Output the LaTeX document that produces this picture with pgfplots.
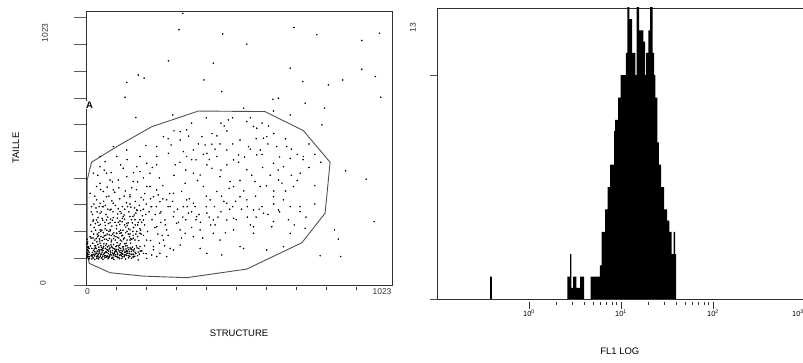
\documentclass[border=0pt]{standalone}
\usepackage{pgfplots}
\pgfplotsset{compat=1.18}
\usepackage{fontspec}
\setmainfont{Liberation Sans}
\definecolor{axgray}{HTML}{303030}
\definecolor{gategray}{HTML}{505050}
\newcommand{\lblfont}{\fontsize{9.5}{11}\selectfont}
\newcommand{\tckfont}{\fontsize{8.5}{10}\selectfont}

\begin{document}
\begin{tikzpicture}
% ---------------- left: dot plot ----------------
\begin{axis}[
  at={(86bp,78bp)}, anchor=south west,
  scale only axis, width=306bp, height=274bp,
  xmin=0, xmax=1043, ymin=0, ymax=1049,
  axis line style={axgray, line width=0.9bp},
  xtick=\empty,
  extra x ticks={102.3,204.6,306.9,409.2,511.5,613.8,716.1,818.4,920.7},
  extra x tick labels={},
  extra x tick style={major tick length=3bp, tick align=outside, xtick pos=left,
     tick style={yshift=-2.5bp, axgray, line width=0.9bp}},
  ytick={0,102.3,204.6,306.9,409.2,511.5,613.8,716.1,818.4,920.7,1023},
  yticklabels={},
  ytick pos=left,
  tick align=outside, major tick length=12bp,
  ytick style={black!65, line width=0.9bp},
  xlabel={STRUCTURE}, ylabel={TAILLE},
  xlabel style={at={(rel axis cs:0.5,-0.175)}, anchor=center, font=\lblfont},
  ylabel style={at={(rel axis cs:-0.229,0.5)}, anchor=center, font=\lblfont},
]
\addplot[only marks, mark=*, mark size=0.55bp, black] table {
x y
330 1040
317 977
466 961
709 986
787 958
1000 964
940 936
548 922
281 858
434 849
696 830
940 826
178 804
198 792
139 776
402 785
739 779
826 766
875 785
986 798
463 740
133 719
637 711
656 715
1005 719
747 696
813 677
639 666
696 651
170 641
296 651
804 613
537 677
885 437
955 405
847 211
860 176
798 112
868 109
982 243
321 587
343 594
485 632
471 609
548 626
571 607
582 600
622 609
446 571
395 568
383 540
406 536
429 539
457 540
290 536
264 568
204 534
241 492
332 511
281 504
525 555
554 530
605 562
616 568
650 530
684 530
673 453
656 402
639 466
582 498
520 498
503 479
412 460
429 447
366 428
338 389
389 421
457 415
491 396
548 441
576 396
594 377
605 275
656 287
696 300
730 281
747 217
696 198
633 223
571 198
525 147
463 115
503 255
434 249
377 262
366 313
423 326
343 326
332 300
298 262
275 211
321 211
287 140
264 172
252 319
241 364
218 377
196 326
161 396
150 338
173 287
127 262
105 198
70 249
48 275
48 313
70 338
93 364
110 402
127 447
173 453
207 466
241 460
184 434
48 453
65 472
366 185
389 140
412 121
434 198
503 211
571 223
639 243
673 147
616 134
537 140
457 172
321 153
298 134
224 115
196 121
184 147
161 179
150 211
139 236
116 281
93 313
59 358
36 377
25 249
14 185
8 147
207 377
230 338
252 275
275 326
298 351
326 358
349 275
287 300
224 300
196 249
241 223
269 249
309 236
338 198
389 211
412 275
480 313
525 338
446 358
400 377
503 377
548 326
571 287
480 249
639 338
673 326
707 377
730 428
741 492
696 485
594 517
480 517
343 492
304 460
375 479
446 492
218 428
139 415
82 402
48 389
70 428
105 492
139 517
184 492
241 530
321 555
366 517
412 504
93 530
48 492
25 428
14 351
19 300
36 326
59 300
82 287
36 249
48 211
82 211
116 198
150 172
184 198
207 172
230 147
252 121
275 109
241 109
207 102
178 96
161 109
139 121
122 102
105 109
88 102
70 109
53 102
36 109
19 115
5 109
5 134
5 160
5 121
8 102
11 140
18 112
22 125
25 104
28 138
31 118
33 150
36 108
38 130
41 122
44 145
46 105
48 160
50 115
52 135
55 126
57 110
60 148
62 120
64 104
66 140
68 128
70 158
72 112
74 134
76 120
78 150
80 108
82 142
84 125
86 165
88 115
90 132
92 104
94 155
96 121
98 138
100 110
102 147
104 128
106 162
108 116
110 135
112 106
114 152
116 124
118 140
120 112
122 168
124 130
126 118
128 146
130 108
132 158
134 126
136 138
138 114
140 150
143 122
146 135
149 110
152 160
155 128
158 145
162 118
165 138
168 125
172 150
176 112
180 140
185 130
20 140
27 118
34 126
39 112
43 135
47 122
53 144
58 132
63 112
67 152
71 125
75 108
79 138
83 118
87 148
91 122
95 112
99 128
103 136
107 122
111 150
115 114
119 132
123 120
127 138
131 126
135 150
139 132
144 112
148 128
153 140
157 118
163 130
170 120
178 126
3 105
4 115
3 125
5 135
4 145
3 155
6 165
4 175
5 120
7 110
9 130
10 118
12 108
8 142
11 125
35 178
42 190
50 205
58 182
65 215
72 195
80 178
88 225
95 200
102 185
110 240
118 210
125 190
132 230
140 205
148 185
155 250
162 220
170 195
178 240
186 210
192 265
40 240
55 255
68 270
76 235
85 290
93 258
100 305
108 272
116 245
124 300
130 268
138 315
146 280
153 298
160 262
168 320
175 285
182 305
190 240
45 300
60 320
78 340
98 355
115 330
134 360
150 345
172 365
188 335
205 310
215 280
225 250
235 220
245 195
210 205
220 170
200 150
190 130
205 120
230 135
250 160
260 190
270 230
255 280
240 300
262 330
280 300
285 350
300 280
315 240
330 260
345 300
360 280
375 250
390 240
410 300
420 260
440 230
460 280
470 320
490 290
510 320
530 290
550 260
560 230
580 260
600 300
620 270
640 310
660 280
690 250
710 230
730 300
750 260
780 310
21 108
26 132
29 112
32 142
35 120
37 102
40 155
42 116
45 128
49 110
51 150
54 104
56 138
59 118
61 158
65 124
69 106
73 146
77 130
81 114
85 154
89 106
93 140
97 126
101 116
105 150
109 104
113 130
117 158
121 124
125 108
129 134
133 116
137 160
141 128
145 104
150 142
154 116
160 134
166 110
174 142
182 118
24 180
30 172
38 195
46 176
54 210
62 188
70 175
78 205
86 190
94 178
104 215
112 180
120 200
128 176
136 222
144 195
152 178
160 205
168 230
176 185
184 215
196 190
28 220
44 228
64 240
84 252
104 228
124 255
144 238
164 268
184 250
200 230
22 270
34 295
52 280
66 305
88 322
110 292
132 290
150 310
166 295
186 285
204 270
222 300
236 270
30 340
50 365
72 375
90 395
112 372
130 340
156 372
176 395
200 350
220 330
246 345
262 380
40 420
62 440
86 430
118 460
140 480
162 430
196 410
226 450
250 410
255 240
268 150
280 190
295 320
312 290
325 180
340 250
352 330
360 220
372 300
385 270
398 180
410 340
425 230
438 300
450 260
462 340
475 200
488 370
500 300
512 250
525 400
538 360
550 300
565 420
578 340
590 290
602 450
615 380
628 420
640 360
655 440
668 390
680 360
700 420
720 400
760 450
780 380
300 420
320 470
340 440
360 480
380 400
400 500
420 480
440 520
460 440
480 460
500 540
520 470
540 490
560 520
580 560
600 500
620 540
640 580
660 490
680 560
700 520
720 500
740 480
760 540
780 500
800 470
280 560
300 590
350 570
430 580
480 590
360 620
410 640
460 620
500 640
560 640
600 620
15 150
17 180
19 205
23 160
26 195
30 150
33 210
37 165
40 185
44 200
47 168
51 185
55 170
59 200
63 175
67 190
71 210
75 170
79 192
83 208
87 172
91 195
96 188
100 172
104 198
108 182
113 205
117 172
122 188
126 210
131 180
135 200
140 172
145 215
150 195
156 175
161 190
167 172
173 205
180 170
188 195
16 230
24 245
32 235
41 258
49 232
57 248
66 228
74 260
82 238
90 248
99 240
107 256
115 232
123 242
132 252
141 228
150 262
158 238
167 250
176 230
12 100
20 100
30 98
42 100
58 98
75 100
95 98
115 100
135 99
155 102
23 115
29 128
35 140
41 108
47 134
53 118
59 142
65 112
71 136
77 104
83 130
89 144
95 118
101 132
107 106
113 142
119 118
125 146
131 112
137 128
143 142
149 120
155 136
161 106
18 280
27 310
38 280
56 300
74 290
92 280
120 275
142 300
170 275
195 290
};
% gate A
\addplot[gategray, line width=0.9bp, mark=none] coordinates {
(4,402) (19,470) (105,530) (224,606) (383,666) (610,664) (741,591)
(832,470) (815,275) (736,162) (548,61) (343,28) (195,34) (82,47)
(11,83) (4,121) (4,402)};
\end{axis}

% ---------------- right: histogram ----------------
\begin{axis}[
  at={(437bp,64bp)}, anchor=south west,
  scale only axis, width=368bp, height=291bp,
  xmode=log, xmin=0.1, xmax=1000, ymin=0, ymax=13,
  axis line style={axgray, line width=0.9bp},
  xtick={1,10,100},
  xticklabels={10\textsuperscript{0},10\textsuperscript{1},10\textsuperscript{2}},
  extra x ticks={1000},
  extra x tick labels={10\textsuperscript{3}},
  extra x tick style={xticklabel style={xshift=-7bp}},
  ytick={0,10}, yticklabels={},
  xtick pos=left, ytick pos=left,
  tick align=outside, major tick length=7bp, minor tick length=3.3bp,
  xtick style={yshift=-2.5bp, axgray, line width=0.9bp},
  ytick style={black!70, line width=0.9bp},
  xticklabel style={font=\fontsize{7.5}{8}\selectfont},
  xlabel={FL1 LOG},
  xlabel style={at={(rel axis cs:0.497,-0.179)}, anchor=center, font=\lblfont},
]
\addplot[fill=black, draw=none, const plot mark left] coordinates {
(0.3768,1) (0.396,0) (2.608,1) (2.791,2) (2.883,0.5) (3.008,1) (3.283,0.5)
(3.584,1) (3.961,0) (4.685,1) (5.911,1.5) (6.138,3) (6.701,4) (7.134,5)
(7.594,6) (8.393,7.5) (8.606,8) (9.277,9) (9.876,10) (11.33,11) (11.71,14)
(12.31,12.5) (13.17,11) (14.30,10) (14.82,14) (15.69,12) (17.48,11.5)
(18.24,10) (18.70,11) (19.81,12) (20.67,14) (22.12,11) (22.84,10) (23.60,9)
(24.80,7) (25.88,6) (27.22,5) (29.34,4) (31.62,3.5) (33.50,3) (35.39,2)
(37.21,3) (38.64,2) (39.61,0)} \closedcycle;
\end{axis}

% tick labels and gate name
\node[rotate=90, font=\tckfont, text=black!80] at (45bp,330bp) {1023};
\node[rotate=90, font=\tckfont, text=black!80] at (43bp,80bp) {0};
\node[font=\tckfont, text=black!80] at (87.5bp,71bp) {0};
\node[font=\tckfont, text=black!80] at (382bp,71bp) {1023};
\node[rotate=90, font=\tckfont, text=black!80] at (413bp,335bp) {13};
\node[font=\fontsize{9.5}{10}\selectfont\bfseries, fill=white, inner sep=0.6bp] at (89.5bp,258bp) {A};

\pgfresetboundingbox
\path[use as bounding box] (0,0) rectangle (803bp,363bp);
\end{tikzpicture}
\end{document}
